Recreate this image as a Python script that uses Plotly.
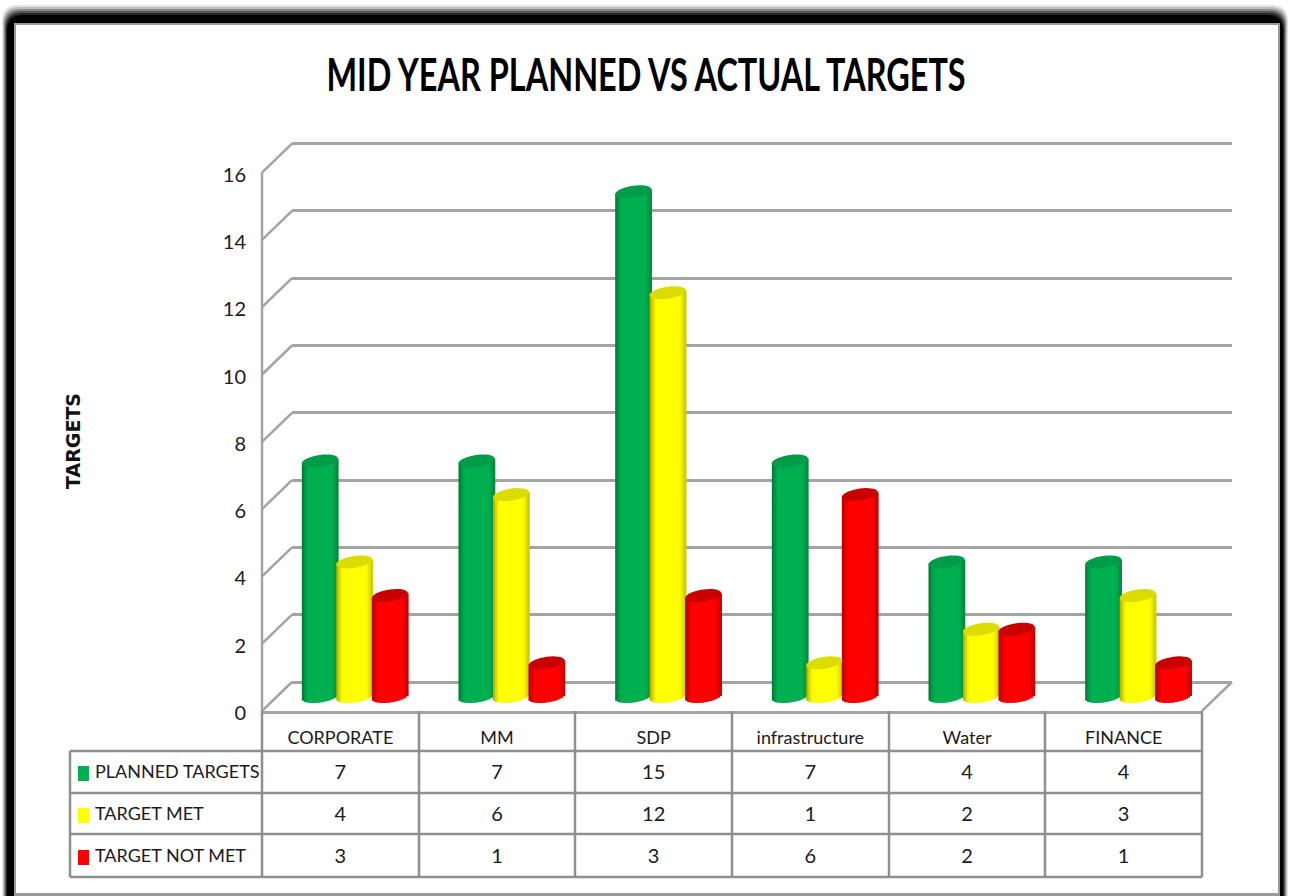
# -*- coding: utf-8 -*-
import math
import plotly.graph_objects as go

# Chart data
categories = ["CORPORATE", "MM", "SDP", "infrastructure", "Water", "FINANCE"]
planned_targets = [7, 7, 15, 7, 4, 4]
target_met = [4, 6, 12, 1, 2, 3]
target_not_met = [3, 1, 3, 6, 2, 1]
series_names = ["PLANNED TARGETS", "TARGET MET", "TARGET NOT MET"]
y_ticks = [0, 2, 4, 6, 8, 10, 12, 14, 16]

# Page geometry, in pixels of the 1290x896 page
W, H = 1290, 896
UNIT = 33.65
COL_W = (1202 - 262) / 6
TABLE_X = [70, 262, 419, 575, 732, 889, 1045, 1202]
TABLE_Y = [751, 793, 834, 877]
GRID = "#a3a3a3"
TABLE_LINE = "#8f8f8f"
TEXT = "#1a1a1a"
FONT = "Lato"
TITLE_X = 646

# Cylinder look: half width, cap half height, cap tilt
BAR_A, BAR_B, BAR_TILT = 18, 6, 2.5 / 18
STRIPS = 18

styles = [
    dict(values=planned_targets, colour=(0, 176, 80), cap="#009c47", centre=-20.5),
    dict(values=target_met, colour=(255, 255, 0), cap="#dcdc00", centre=14.0),
    dict(values=target_not_met, colour=(255, 0, 0), cap="#c90000", centre=49.5),
]


def px_x(x):
    return x / W


def px_y(y):
    return 1 - y / H


def dom_x(a, b):
    return [px_x(a), px_x(b)]


def dom_y(bottom, top):
    return [px_y(bottom), px_y(top)]


def shade(colour, pos):
    # pos is -1..1 across the cylinder, the outer edges go dark
    t = abs(pos)
    f = max(0, (t - 0.6) / 0.4) ** 1.6 * (0.36 if pos < 0 else 0.24)
    return "rgb(%d,%d,%d)" % tuple(round(c * (1 - f)) for c in colour)


def cap_path(cx):
    pts = []
    for i in range(36):
        a = 2 * math.pi * i / 36
        x = BAR_A * math.cos(a)
        y = BAR_B * math.sin(a) + BAR_TILT * x
        pts.append("%.2f,%.2f" % (cx + x, y))
    return "M" + " L".join(pts) + " Z"


def rounded_rect(x0, y0, x1, y1, r):
    x0, x1 = px_x(x0), px_x(x1)
    y0, y1 = px_y(y0), px_y(y1)
    rx, ry = r / W, r / H
    return (
        f"M{x0 + rx},{y0} L{x1 - rx},{y0} Q{x1},{y0} {x1},{y0 - ry} "
        f"L{x1},{y1 + ry} Q{x1},{y1} {x1 - rx},{y1} "
        f"L{x0 + rx},{y1} Q{x0},{y1} {x0},{y1 + ry} "
        f"L{x0},{y0 - ry} Q{x0},{y0} {x0 + rx},{y0} Z"
    )


fig = go.Figure()

# Back wall, its gridlines sit under everything else
fig.add_trace(go.Scatter(x=[0, 1], y=[0, 16], mode="markers", marker=dict(opacity=0),
                         xaxis="x", yaxis="y", showlegend=False, hoverinfo="skip"))

# Cylinders, each one built from thin upright strips for the shading
for k, s in enumerate(styles):
    for i in range(STRIPS):
        dx = -BAR_A + (i + 0.5) * 2 * BAR_A / STRIPS
        pos = dx / BAR_A
        low = (BAR_TILT * dx - BAR_B * math.sqrt(max(0, 1 - pos * pos))) / UNIT
        top = BAR_TILT * dx / UNIT
        fig.add_trace(go.Bar(
            x=categories,
            y=[v + top - low for v in s["values"]],
            base=[low] * len(categories),
            offset=(s["centre"] + dx - 1) / COL_W,
            width=(2 * BAR_A / STRIPS + 0.8) / COL_W,
            marker=dict(color=shade(s["colour"], pos), line=dict(width=0)),
            xaxis="x2", yaxis="y2",
            name=series_names[k],
            legendgroup=series_names[k],
            showlegend=False,
            hovertemplate="%{x}: %{customdata}<extra>" + series_names[k] + "</extra>",
            customdata=s["values"],
        ))

# Front plane, carries the value axis and the category labels
fig.add_trace(go.Scatter(x=categories, y=[0] * len(categories), mode="markers",
                         marker=dict(opacity=0), xaxis="x3", yaxis="y3",
                         showlegend=False, hoverinfo="skip"))

# Data table below the plot
for name, s in zip(series_names, styles):
    fig.add_trace(go.Scatter(
        x=categories,
        y=[name] * len(categories),
        text=[str(v) for v in s["values"]],
        mode="text",
        textfont=dict(family=FONT, size=20, color=TEXT),
        xaxis="x3", yaxis="y4",
        showlegend=False, hoverinfo="skip",
    ))

fig.add_trace(go.Scatter(
    x=[25] * 3,
    y=series_names,
    text=series_names,
    mode="text",
    textposition="middle right",
    textfont=dict(family=FONT, size=18, color=TEXT),
    xaxis="x4", yaxis="y4",
    showlegend=False, hoverinfo="skip",
))

shapes = []

# Black blurred frame round the white card
for inset, grey in [(3, "#e4e4e4"), (4, "#bdbdbd"), (5, "#8a8a8a"), (6, "#565656"), (7, "#262626"), (8, "#000000")]:
    shapes.append(dict(type="path", path=rounded_rect(inset - 1, 5 + (inset - 3) * 2, W - inset + 1, H + 20, 16),
                       xref="paper", yref="paper", fillcolor=grey, line=dict(width=0), layer="below"))
shapes.append(dict(type="rect", xref="paper", yref="paper", x0=px_x(14), x1=px_x(1280), y0=px_y(896), y1=px_y(23),
                   fillcolor="#9a9a9a", line=dict(width=0), layer="below"))
shapes.append(dict(type="rect", xref="paper", yref="paper", x0=px_x(16), x1=px_x(1278), y0=px_y(893), y1=px_y(25),
                   fillcolor="#ffffff", line=dict(width=0), layer="below"))

# Side wall diagonals, anchored to the front axis values
for v in y_ticks:
    shapes.append(dict(type="line", xref="paper", yref="y3", xsizemode="pixel", ysizemode="pixel",
                       xanchor=px_x(262), yanchor=v, x0=0, x1=30, y0=0, y1=29,
                       line=dict(color=GRID, width=2.5)))
shapes.append(dict(type="line", xref="paper", yref="y3", xsizemode="pixel", ysizemode="pixel",
                   xanchor=px_x(1202), yanchor=0, x0=0, x1=30, y0=0, y1=29,
                   line=dict(color=GRID, width=2.5)))
# Front vertical of the value axis
shapes.append(dict(type="line", xref="paper", yref="y3", x0=px_x(262), x1=px_x(262), y0=y_ticks[0], y1=y_ticks[-1],
                   line=dict(color=GRID, width=2.5)))

# Table lines
for y in TABLE_Y:
    shapes.append(dict(type="line", xref="paper", yref="paper", x0=px_x(TABLE_X[0]), x1=px_x(TABLE_X[-1]),
                       y0=px_y(y), y1=px_y(y), line=dict(color=TABLE_LINE, width=2.5)))
for i, x in enumerate(TABLE_X):
    shapes.append(dict(type="line", xref="paper", yref="paper", x0=px_x(x), x1=px_x(x),
                       y0=px_y(711 if i else TABLE_Y[0]), y1=px_y(TABLE_Y[-1]),
                       line=dict(color=TABLE_LINE, width=2.5)))

# Legend keys in the first table column
for name, s in zip(series_names, styles):
    shapes.append(dict(type="rect", xref="paper", yref="y4", ysizemode="pixel", yanchor=name,
                       x0=px_x(78), x1=px_x(89), y0=-7.5, y1=7.5,
                       fillcolor="rgb(%d,%d,%d)" % s["colour"], line=dict(width=0)))

# Cylinder caps, placed on the value of each bar
for s in styles:
    for cat, v in zip(categories, s["values"]):
        shapes.append(dict(type="path", xref="x2", yref="y2", xsizemode="pixel", ysizemode="pixel",
                           xanchor=cat, yanchor=v, path=cap_path(s["centre"]),
                           fillcolor=s["cap"], line=dict(width=0)))

fig.update_layout(
    width=W,
    height=H,
    autosize=False,
    template="none",
    margin=dict(l=0, r=0, t=0, b=0),
    paper_bgcolor="#ffffff",
    plot_bgcolor="rgba(0,0,0,0)",
    barmode="overlay",
    showlegend=False,
    font=dict(family=FONT, color=TEXT),
    title=dict(
        text="<b>MID YEAR PLANNED VS ACTUAL TARGETS</b>",
        x=TITLE_X / W, xanchor="center", xref="paper",
        y=px_y(75), yanchor="middle", yref="paper",
        font=dict(family=FONT, size=46, color="#000000"),
    ),
    shapes=shapes,
    annotations=[dict(
        text="<b>TARGETS</b>",
        xref="paper", yref="paper", x=px_x(73), y=px_y(441),
        xanchor="center", yanchor="middle",
        showarrow=False, textangle=-90,
        font=dict(family="DejaVu Sans", size=19, color="#111111"),
    )],
    # back wall, the range runs one unit past both ends so 0 and 16 keep their gridlines
    xaxis=dict(domain=dom_x(292, 1232), range=[0, 1], visible=False, anchor="y"),
    yaxis=dict(domain=dom_y(682 + UNIT, 682 - 17 * UNIT), range=[-1, 17], tickvals=y_ticks, showticklabels=False,
               showgrid=True, gridcolor=GRID, gridwidth=2.5, zeroline=False, showline=False, ticks="", anchor="x"),
    # bars, the range starts below zero so the round feet fit
    xaxis2=dict(domain=dom_x(262, 1202), type="category", categoryarray=categories, range=[-0.5, 5.5],
                visible=False, anchor="y2"),
    yaxis2=dict(domain=dom_y(696.5 + UNIT, 696.5 - 16 * UNIT), range=[-1, 16], visible=False, anchor="x2"),
    # front plane, one spare unit on top so the top diagonal is not clipped
    xaxis3=dict(domain=dom_x(262, 1202), type="category", categoryarray=categories, range=[-0.5, 5.5],
                anchor="y3", showgrid=False, showline=True, linecolor=GRID, linewidth=2.5,
                ticks="outside", ticklen=9, tickcolor="rgba(0,0,0,0)", tickangle=0,
                tickfont=dict(family=FONT, size=18, color=TEXT)),
    yaxis3=dict(domain=dom_y(711, 711 - 17 * UNIT), range=[0, 17], tickvals=y_ticks, anchor="x3",
                showgrid=False, zeroline=False, showline=False,
                ticks="outside", ticklen=11, tickcolor="rgba(0,0,0,0)", ticklabelshift=2,
                tickfont=dict(family=FONT, size=20, color=TEXT)),
    # table rows
    yaxis4=dict(domain=dom_y(TABLE_Y[-1] + 1.5, TABLE_Y[0] + 1.5), type="category", categoryarray=series_names,
                range=[2.5, -0.5], visible=False, anchor="x3"),
    xaxis4=dict(domain=dom_x(70, 262), range=[0, 192], visible=False, anchor="y4"),
)

# The title in the picture is a narrow face, none is installed, so squeeze it sideways
post = (
    "document.body.style.margin='0';"
    "var t=document.querySelector('.gtitle');"
    "if(t){t.setAttribute('transform','translate(%d,0) scale(0.705,1) translate(-%d,0)');}"
    % (TITLE_X, TITLE_X)
)
fig.write_html("out.html", config={"displayModeBar": False}, post_script=post)
